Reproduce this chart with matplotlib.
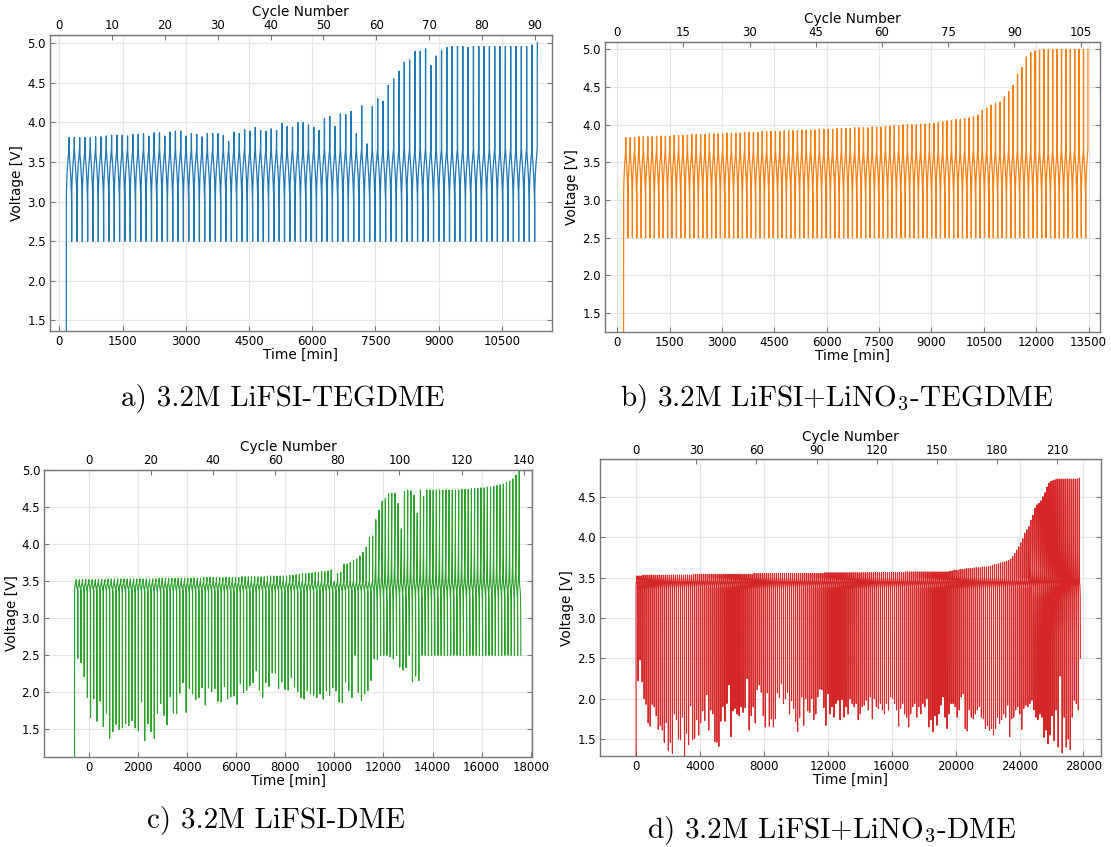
"""Voltage vs time cycling traces for four electrolytes, with a cycle-number top axis."""

import matplotlib

matplotlib.use("Agg")
import matplotlib.pyplot as plt
import numpy as np

plt.rcParams["mathtext.fontset"] = "cm"
plt.rcParams["axes.unicode_minus"] = False

# ---------------------------------------------------------------- data
# per-cycle charge end (peak) and discharge end (low) voltages

peaks_a = [
    3.81, 3.81, 3.81, 3.81, 3.81, 3.82, 3.82, 3.83, 3.84, 3.84,
    3.84, 3.83, 3.85, 3.85, 3.86, 3.83, 3.87, 3.87, 3.83, 3.88,
    3.89, 3.89, 3.83, 3.86, 3.85, 3.82, 3.86, 3.86, 3.86, 3.84,
    3.76, 3.88, 3.86, 3.91, 3.89, 3.94, 3.90, 3.89, 3.92, 3.90,
    3.99, 3.95, 3.94, 4.00, 4.00, 3.97,
    3.94, 3.90, 4.05, 4.08, 3.95, 4.11, 4.10, 4.14, 3.86, 4.21,
    3.73, 4.20, 4.30, 4.27, 4.47, 4.55, 4.65, 4.76, 4.79, 4.90,
    4.90, 4.93, 4.72, 4.84, 4.91, 4.95, 4.96, 4.96, 4.96, 4.95,
    4.96, 4.96, 4.96, 4.96, 4.96, 4.96, 4.96, 4.96, 4.96, 4.96,
    4.96, 4.98, 5.01,
]
lows_a = [2.5] * len(peaks_a)

peaks_b = [
    3.83, 3.83, 3.83, 3.84, 3.84, 3.84, 3.84, 3.85, 3.85, 3.85,
    3.85, 3.86, 3.86, 3.86, 3.86, 3.87, 3.87, 3.87, 3.87, 3.88,
    3.88, 3.88, 3.88, 3.89, 3.89, 3.89, 3.89, 3.90, 3.90, 3.90,
    3.90, 3.91, 3.91, 3.91, 3.91, 3.91, 3.92, 3.92, 3.92, 3.92,
    3.93, 3.93, 3.93, 3.93, 3.94, 3.94, 3.94, 3.94, 3.95, 3.95,
    3.95, 3.95, 3.96, 3.96, 3.96, 3.96, 3.97, 3.97, 3.97, 3.98,
    3.98, 3.99, 3.99, 4.00, 4.00, 4.00, 4.00, 4.01, 4.01, 4.02,
    4.02, 4.03, 4.04, 4.05, 4.06, 4.07, 4.07, 4.08, 4.09, 4.11,
    4.13, 4.19, 4.22, 4.26, 4.28, 4.30, 4.37, 4.44, 4.52, 4.67,
    4.76, 4.90, 4.96, 4.98, 4.99, 5.00, 5.00, 5.00, 5.00, 5.00,
    5.00, 5.00, 5.00, 5.00, 5.00, 5.00,
]
lows_b = [2.5] * len(peaks_b)

peaks_c = (
    [3.52] * 10 + [3.53] * 16 + [3.54] * 14 + [3.55] * 12 + [3.56] * 8 + [3.57] * 7
    + [3.58, 3.58, 3.59, 3.59, 3.60, 3.60, 3.61, 3.61, 3.62, 3.62, 3.63, 3.63, 3.64, 3.65]
    + [3.50]
    + [3.60, 3.62, 3.73, 3.73, 3.75, 3.78, 3.80, 3.84, 3.89, 3.96,
       4.09, 4.11, 4.33, 4.46, 4.58, 4.62, 4.68, 4.69, 4.69, 4.55,
       4.21, 4.71, 4.73, 4.72, 4.66, 4.42, 4.73, 4.64, 4.73]
    + [4.73] * 9
    + [4.73, 4.74, 4.74, 4.74, 4.75, 4.75, 4.75, 4.76, 4.76, 4.77, 4.77]
    + [4.78, 4.79, 4.80, 4.81, 4.83, 4.85, 4.88, 4.93, 5.00]
)
lows_c = [
    2.46, 2.40, 2.21, 1.93, 1.66, 1.91, 1.61, 1.88, 1.54, 1.72,
    1.38, 1.47, 1.57, 1.50, 1.52, 1.58, 1.55, 1.62, 1.52, 1.48,
    1.87, 1.35, 1.58, 1.47, 1.38, 1.72, 1.85, 1.69, 1.56, 1.94,
    1.72, 1.71, 1.99, 2.13, 1.73, 2.05, 1.98, 1.90, 1.93, 2.06,
    1.83, 2.06, 2.01, 2.05, 1.88, 1.87, 2.08, 1.91, 1.94, 1.95,
    1.84, 2.12, 2.00, 2.03, 2.09, 2.13, 2.29, 2.03, 1.93, 2.13,
    2.08, 2.26, 2.26, 2.05, 2.14, 2.04, 2.03,
    2.20, 2.07, 2.01, 1.93, 1.91, 2.02, 1.98, 1.96, 1.93, 1.98,
    1.91, 2.02, 1.96, 2.06, 2.02, 1.87, 1.86, 2.14, 2.02, 1.93,
    2.50, 2.00, 1.89, 1.98, 2.02, 2.16, 2.45, 2.44, 2.50, 2.50,
    2.50, 2.48, 2.45, 2.50, 2.34, 2.30, 2.33, 2.50, 2.14, 2.22,
    2.16,
] + [2.5] * 32

peaks_d = (
    [3.52] * 3 + [3.53] * 25 + [3.54] * 30 + [3.55] * 35 + [3.56] * 40 + [3.57] * 22
    + [3.58, 3.58, 3.59, 3.59, 3.59, 3.60, 3.60, 3.60, 3.61, 3.61,
       3.61, 3.61, 3.62, 3.62, 3.62, 3.62, 3.63, 3.63, 3.63, 3.64,
       3.64, 3.65, 3.66, 3.66, 3.67, 3.68, 3.69, 3.69, 3.70, 3.71,
       3.73, 3.76, 3.80, 3.84, 3.88, 3.93, 3.98, 4.05, 4.09, 4.13,
       4.21, 4.27, 4.36, 4.40, 4.42, 4.45, 4.50, 4.55, 4.62, 4.67,
       4.69, 4.70, 4.71]
    + [4.72] * 11 + [4.73]
)
lows_d = [
    2.22, 2.48, 2.21, 2.00, 1.93, 1.70, 1.66, 1.93, 1.90, 1.79,
    1.62, 1.67, 1.61, 1.46, 1.70, 1.36, 1.46, 1.32, 1.81, 1.74,
    1.50, 1.49, 1.77, 1.29, 1.57, 1.43, 1.91, 1.49, 1.51, 1.74,
    1.55, 1.70, 1.85, 1.73, 2.05, 1.61, 1.86, 1.81, 1.47, 1.46,
    1.41, 1.72, 1.90, 1.72, 1.94, 2.17, 1.53, 1.85, 1.88, 1.81,
    1.79, 1.90, 1.83, 1.89, 2.25, 1.61, 1.79, 1.90, 1.70, 2.11,
    2.17, 2.08, 1.79, 1.65, 2.07, 1.66, 1.75, 1.65, 1.75, 2.07,
    2.01, 2.19, 1.94, 2.00, 2.08, 1.81, 1.98, 1.88, 1.72, 1.59,
    1.77, 2.02, 1.67, 2.00, 1.85, 1.83, 2.00, 1.74, 1.81, 2.02,
    2.12, 2.11, 1.89, 1.67, 2.06, 1.81, 1.90, 1.77, 1.94, 1.98,
    1.74, 1.99, 1.77, 1.90, 1.81, 2.00, 1.94,
    1.90, 1.94, 1.74, 1.81, 1.90, 1.92, 1.98, 1.86, 2.02, 1.75,
    2.00, 1.90, 1.88, 1.94, 1.86, 1.81, 1.94, 1.86, 2.02, 2.00,
    1.94, 1.86, 1.66, 1.88, 1.94, 1.81, 1.77, 1.65, 1.81, 1.90,
    1.94, 1.77, 1.90, 1.81, 1.94, 1.90, 2.00, 1.65, 1.74, 1.59,
    1.79, 1.67, 1.81, 1.92, 2.02, 1.77, 1.63, 1.81, 1.94, 1.94,
    1.90, 1.77, 1.86, 2.02, 2.06, 1.63, 1.60, 1.86, 1.77, 1.75,
    1.81, 1.86, 1.90, 1.77, 1.75, 1.63, 1.67, 1.61, 1.63, 1.55,
    1.63, 1.77, 1.69, 1.74, 1.81, 1.77, 1.92, 1.53, 1.75, 1.77,
    1.86, 1.90, 1.81, 1.62, 1.88, 1.92, 1.90, 1.94, 1.98, 1.86,
    1.77, 1.74, 1.81, 1.77, 1.52, 1.61, 1.44, 1.55, 1.79, 1.48,
    1.86, 1.40, 2.28, 1.33, 1.77, 1.40, 1.50, 1.37, 1.77, 1.98,
    1.94, 1.86, 2.50,
]

# in-cycle voltage profile (fraction of cycle, volts) for each solvent
teg_charge_frac = [0.004, 0.03, 0.10, 0.22, 0.35, 0.45, 0.49]
teg_charge_v = [3.02, 3.15, 3.30, 3.45, 3.56, 3.64, 3.68]
teg_dis_frac = [0.503, 0.52, 0.60, 0.72, 0.85, 0.95, 0.99]
teg_dis_v = [3.72, 3.66, 3.56, 3.44, 3.28, 3.10, 2.98]

dme_charge_frac = [0.003, 0.06, 0.25, 0.45, 0.49]
dme_charge_v = [3.37, 3.43, 3.46, 3.49, 3.50]
dme_dis_frac = [0.503, 0.53, 0.75, 0.95, 0.995]
dme_dis_v = [3.50, 3.45, 3.41, 3.38, 3.36]

# cycles that run up to the high-voltage cut-off charge and discharge more gradually
dme_fade_charge_frac = [0.003, 0.05, 0.20, 0.30, 0.40, 0.46, 0.49]
dme_fade_charge_v = [3.33, 3.42, 3.48, 3.60, 3.85, 4.20, 4.50]
dme_fade_dis_frac = [0.503, 0.51, 0.53, 0.60, 0.80, 0.92, 0.97, 0.995]
dme_fade_dis_v = [4.30, 3.90, 3.60, 3.45, 3.38, 3.25, 3.00, 2.75]
fade_threshold = 4.2

captions = [
    "a) 3.2M LiFSI-TEGDME",
    "b) 3.2M LiFSI+LiNO$_3$-TEGDME",
    "c) 3.2M LiFSI-DME",
    "d) 3.2M LiFSI+LiNO$_3$-DME",
]


def build_trace(t0, period, peaks, lows, shape, fade_shape=None,
                v_start=1.0, last_charge_only=False):
    """Chain one charge/discharge profile per cycle into a single time series."""
    t, v = [t0], [v_start]
    n = min(len(peaks), len(lows))
    for i in range(n):
        cf, cv, df, dv = shape
        if fade_shape is not None and peaks[i] > fade_threshold:
            cf, cv, df, dv = fade_shape
        s = t0 + i * period
        t += [s + f * period for f in cf]
        v += [min(x, peaks[i]) for x in cv]
        t.append(s + 0.5 * period)
        v.append(peaks[i])
        if last_charge_only and i == n - 1:
            break
        t += [s + f * period for f in df]
        v += [max(min(x, peaks[i]), lows[i]) for x in dv]
        t.append(s + period)
        v.append(lows[i])
    return np.array(t), np.array(v)


teg_shape = (teg_charge_frac, teg_charge_v, teg_dis_frac, teg_dis_v)
dme_shape = (dme_charge_frac, dme_charge_v, dme_dis_frac, dme_dis_v)
dme_fade = (dme_fade_charge_frac, dme_fade_charge_v, dme_fade_dis_frac, dme_fade_dis_v)

panels = [
    dict(trace=build_trace(167, 126.25, peaks_a, lows_a, teg_shape, last_charge_only=True),
         color="#1f77b4", lw=0.9, rect=[0.0450, 0.6092, 0.4516, 0.3495],
         xlim=(-221, 11682), ylim=(1.367, 5.105), min_per_cycle=125.3,
         xticks=range(0, 10501, 1500), cticks=range(0, 91, 10),
         yticks=np.arange(1.5, 5.01, 0.5), cap_xy=(283, 398)),
    dict(trace=build_trace(182, 126.05, peaks_b, lows_b, teg_shape, last_charge_only=True),
         color="#ff7f0e", lw=0.9, rect=[0.5446, 0.6080, 0.4455, 0.3424],
         xlim=(-349, 13826), ylim=(1.25, 5.097), min_per_cycle=126.4,
         xticks=range(0, 13501, 1500), cticks=range(0, 106, 15),
         yticks=np.arange(1.5, 5.01, 0.5), cap_xy=(837, 398)),
    dict(trace=build_trace(-579, 129.8, peaks_c, lows_c, dme_shape, dme_fade),
         color="#2ca02c", lw=0.8, rect=[0.0399, 0.1066, 0.4390, 0.3385],
         xlim=(-1812, 18050), ylim=(1.132, 5.0), min_per_cycle=126.5,
         xticks=range(0, 18001, 2000), cticks=range(0, 141, 20),
         yticks=np.arange(1.5, 5.01, 0.5), cap_xy=(276, 820)),
    dict(trace=build_trace(0, 126.4, peaks_d, lows_d, dme_shape, dme_fade),
         color="#d62728", lw=0.8, rect=[0.5401, 0.1074, 0.4509, 0.3503],
         xlim=(-2254, 29100), ylim=(1.29, 4.963), min_per_cycle=125.5,
         xticks=range(0, 28001, 4000), cticks=range(0, 211, 30),
         yticks=np.arange(1.5, 4.51, 0.5), cap_xy=(832, 830)),
]

W, H = 1111, 847
fig = plt.figure(figsize=(W / 100, H / 100), dpi=100)

spine_col = "#777777"
for p, cap in zip(panels, captions):
    ax = fig.add_axes(p["rect"])
    t, v = p["trace"]
    ax.plot(t, v, color=p["color"], lw=p["lw"])
    ax.set_xlim(*p["xlim"])
    ax.set_ylim(*p["ylim"])
    ax.set_xticks(list(p["xticks"]))
    ax.set_yticks(p["yticks"])
    ax.yaxis.set_major_formatter(matplotlib.ticker.FormatStrFormatter("%.1f"))
    ax.grid(True, color="#e6e6e6", lw=0.8)
    ax.set_axisbelow(True)
    ax.tick_params(direction="in", length=3.5, width=0.8, color=spine_col,
                   labelsize=8.5, right=True, pad=3)
    for s in ax.spines.values():
        s.set_color(spine_col)
        s.set_linewidth(1.0)
    ax.set_xlabel("Time [min]", fontsize=9.8, labelpad=0)
    ax.set_ylabel("Voltage [V]", fontsize=9.8, labelpad=2)

    k = p["min_per_cycle"]
    sec = ax.secondary_xaxis("top", functions=(lambda x, k=k: x / k, lambda c, k=k: c * k))
    sec.set_xticks(list(p["cticks"]))
    sec.tick_params(direction="in", length=3.5, width=0.8, color=spine_col,
                    labelsize=8.5, pad=2)
    sec.spines["top"].set_color(spine_col)
    sec.set_xlabel("Cycle Number", fontsize=9.8, labelpad=2)

    cx, cy = p["cap_xy"]
    fig.text(cx / W, 1 - cy / H, cap, family="cmr10", fontsize=21,
             ha="center", va="center")

fig.savefig("out.png", dpi=100)
